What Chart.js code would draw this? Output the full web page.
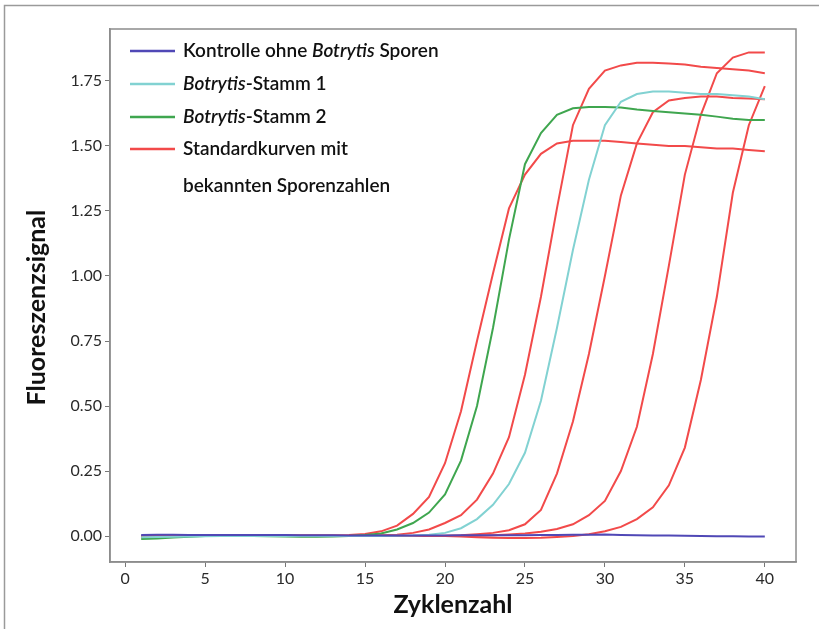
<!DOCTYPE html>
<html>
<head>
<meta charset="utf-8">
<script src="https://cdn.jsdelivr.net/npm/chart.js@4.4.1/dist/chart.umd.min.js"></script>
<style>
  html, body { margin: 0; padding: 0; background: #fff; }
  #wrap { width: 819px; height: 629px; position: relative; }
</style>
</head>
<body>
<div id="wrap"><canvas id="qpcr" width="819" height="629"></canvas></div>
<script>
// qPCR Fluoreszenzkurven

const cycles = [1,2,3,4,5,6,7,8,9,10,11,12,13,14,15,16,17,18,19,20,
                21,22,23,24,25,26,27,28,29,30,31,32,33,34,35,36,37,38,39,40];

const kontrolle = [0.004,0.005,0.005,0.004,0.004,0.004,0.004,0.004,0.004,0.004,
                   0.003,0.003,0.003,0.002,0.002,0.002,0.002,0.002,0.002,0.002,
                   0.003,0.003,0.003,0.003,0.003,0.004,0.004,0.005,0.005,0.006,
                   0.004,0.003,0.002,0.002,0.001,0.000,-0.001,-0.001,-0.002,-0.002];

const stamm1 = [-0.005,-0.004,-0.003,-0.002,-0.001,0.000,0.000,0.000,0.000,0.000,
                0.000,0.000,0.000,0.000,0.000,0.000,0.001,0.002,0.005,0.012,
                0.030,0.065,0.120,0.200,0.320,0.520,0.800,1.100,1.370,1.580,
                1.670,1.700,1.710,1.710,1.705,1.700,1.700,1.695,1.690,1.680];

const stamm2 = [-0.012,-0.010,-0.006,-0.003,0.000,0.000,0.000,0.000,-0.001,-0.002,
                -0.003,-0.003,-0.002,0.000,0.004,0.010,0.025,0.050,0.090,0.160,
                0.290,0.500,0.800,1.140,1.430,1.550,1.620,1.645,1.650,1.650,
                1.648,1.640,1.635,1.630,1.625,1.620,1.613,1.605,1.600,1.600];

const std1 = [-0.005,-0.005,-0.003,0.000,0.001,0.002,0.003,0.003,0.003,0.003,
              0.003,0.003,0.003,0.004,0.008,0.018,0.040,0.085,0.150,0.280,
              0.480,0.750,1.010,1.260,1.390,1.470,1.510,1.520,1.520,1.520,
              1.515,1.510,1.505,1.500,1.500,1.495,1.490,1.490,1.485,1.480];

const std2 = [0.000,0.000,0.000,0.000,0.000,0.000,0.000,0.000,0.000,0.000,
              0.000,0.000,0.000,0.000,0.002,0.003,0.005,0.012,0.025,0.050,
              0.080,0.140,0.240,0.380,0.620,0.920,1.260,1.580,1.720,1.790,
              1.810,1.820,1.820,1.817,1.813,1.805,1.800,1.795,1.790,1.780];

const std3 = [0.000,0.000,0.000,0.000,0.000,0.000,0.000,0.000,0.000,0.000,
              0.000,0.000,0.000,0.000,0.000,0.000,0.000,0.000,0.000,0.001,
              0.003,0.007,0.012,0.022,0.045,0.100,0.240,0.440,0.700,1.000,
              1.310,1.510,1.630,1.675,1.685,1.690,1.690,1.685,1.683,1.680];

const std4 = [0.000,0.000,0.000,0.000,0.000,0.000,0.000,0.000,0.000,0.000,
              0.000,0.000,0.000,0.000,0.000,0.000,0.000,0.000,0.000,0.000,
              0.000,0.001,0.003,0.006,0.010,0.016,0.027,0.045,0.080,0.135,
              0.250,0.420,0.700,1.040,1.390,1.620,1.780,1.840,1.860,1.860];

const std5 = [0.000,0.000,0.000,0.000,0.000,0.000,0.000,0.000,0.000,0.000,
              0.000,0.000,0.000,0.000,0.000,0.000,0.000,0.000,0.000,0.000,
              -0.002,-0.005,-0.007,-0.008,-0.008,-0.007,-0.004,0.000,0.007,0.018,
              0.035,0.065,0.110,0.195,0.340,0.600,0.920,1.320,1.580,1.730];

const xTicks = [0, 5, 10, 15, 20, 25, 30, 35, 40];
const yTicks = [0, 0.25, 0.5, 0.75, 1.0, 1.25, 1.5, 1.75];

// legend rows: [text, italic?] segments
const legendRows = [
  { series: 0, parts: [['Kontrolle ohne ', false], ['Botrytis', true], [' Sporen', false]] },
  { series: 1, parts: [['Botrytis', true], ['-Stamm 1', false]] },
  { series: 2, parts: [['Botrytis', true], ['-Stamm 2', false]] },
  { series: 3, parts: [['Standardkurven mit', false]] },
  { series: -1, parts: [['bekannten Sporenzahlen', false]] }
];

const COL_BLUE = '#5048b6';
const COL_CYAN = '#82d2d2';
const COL_GREEN = '#3fa64f';
const COL_RED = '#f24a4a';
const FONT = 'Lato, "Open Sans", sans-serif';

function pts(arr) {
  return arr.map((v, i) => ({ x: cycles[i], y: v }));
}

function line(label, arr, color, order) {
  return {
    label: label,
    data: pts(arr),
    borderColor: color,
    backgroundColor: color,
    borderWidth: 2,
    pointRadius: 0,
    tension: 0,
    fill: false,
    order: order
  };
}

const datasets = [
  line('Kontrolle ohne Botrytis Sporen', kontrolle, COL_BLUE, 0),
  line('Botrytis-Stamm 1', stamm1, COL_CYAN, 2),
  line('Botrytis-Stamm 2', stamm2, COL_GREEN, 3),
  line('Standardkurven mit bekannten Sporenzahlen', std1, COL_RED, 4),
  line('std2', std2, COL_RED, 4),
  line('std3', std3, COL_RED, 4),
  line('std4', std4, COL_RED, 4),
  line('std5', std5, COL_RED, 4)
];

const framePlugin = {
  id: 'frame',
  beforeDraw(chart) {
    const c = chart.ctx;
    c.save();
    c.strokeStyle = '#9a9a9a';
    c.lineWidth = 1.5;
    c.beginPath();
    c.moveTo(4.5, 629);
    c.lineTo(4.5, 5.5);
    c.lineTo(819, 5.5);
    c.stroke();
    c.restore();
  },
  afterDraw(chart) {
    const a = chart.chartArea;
    const c = chart.ctx;
    c.save();
    c.strokeStyle = '#8c8c8c';
    c.lineWidth = 1.5;
    c.strokeRect(a.left, a.top, a.right - a.left, a.bottom - a.top);
    c.restore();
  }
};

const legendPlugin = {
  id: 'inlineLegend',
  afterDraw(chart) {
    const c = chart.ctx;
    const x0 = 130, x1 = 175, tx = 183;
    const rowsY = [51, 84, 117, 149, 186];
    c.save();
    c.textBaseline = 'middle';
    legendRows.forEach((row, i) => {
      const y = rowsY[i];
      if (row.series >= 0) {
        c.strokeStyle = chart.data.datasets[row.series].borderColor;
        c.lineWidth = 2.5;
        c.beginPath();
        c.moveTo(x0, y);
        c.lineTo(x1, y);
        c.stroke();
      }
      let x = tx;
      c.fillStyle = '#111';
      row.parts.forEach(([txt, it]) => {
        c.font = (it ? 'italic ' : '') + '600 19px ' + FONT;
        c.fillText(txt, x, y);
        x += c.measureText(txt).width;
      });
    });
    c.restore();
  }
};

new Chart(document.getElementById('qpcr'), {
  type: 'line',
  data: { datasets: datasets },
  options: {
    responsive: false,
    animation: false,
    devicePixelRatio: 1,
    layout: { padding: { top: 29, right: 23, left: 0, bottom: 0 } },
    plugins: { legend: { display: false }, tooltip: { enabled: false } },
    scales: {
      x: {
        type: 'linear',
        min: -0.95,
        max: 41.95,
        afterBuildTicks: s => { s.ticks = xTicks.map(v => ({ value: v })); },
        afterFit: s => { s.height = 67; },
        grid: { display: true, drawOnChartArea: false, drawTicks: true, tickLength: 5, tickColor: '#777', tickWidth: 1 },
        border: { display: true, color: '#8c8c8c', width: 1.5 },
        ticks: { color: '#2a2a2a', font: { family: FONT, size: 16 }, padding: 2, maxRotation: 0 },
        title: { display: true, text: 'Zyklenzahl', color: '#111', font: { family: FONT, size: 25, weight: 'bold' }, padding: { top: 0, bottom: 9 } }
      },
      y: {
        min: -0.1,
        max: 1.95,
        afterBuildTicks: s => { s.ticks = yTicks.map(v => ({ value: v })); },
        afterFit: s => { s.width = 110; },
        grid: { display: true, drawOnChartArea: false, drawTicks: true, tickLength: 5, tickColor: '#777', tickWidth: 1 },
        border: { display: true, color: '#8c8c8c', width: 1.5 },
        ticks: { color: '#2a2a2a', font: { family: FONT, size: 16 }, padding: 3, callback: v => v.toFixed(2) },
        // trailing spaces nudge the rotated title a bit lower, like the original
        title: { display: true, text: 'Fluoreszenzsignal    ', color: '#111', font: { family: FONT, size: 25, weight: 'bold' }, padding: { top: 22, bottom: 0 } }
      }
    }
  },
  plugins: [framePlugin, legendPlugin]
});
</script>
</body>
</html>
